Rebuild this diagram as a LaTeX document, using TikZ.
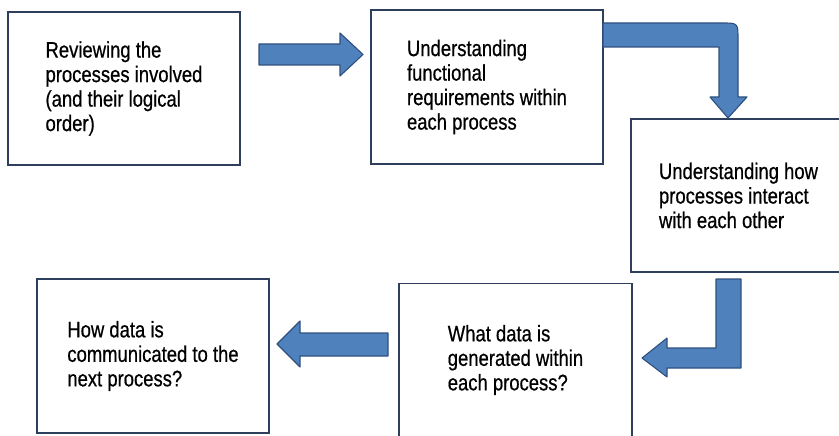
\documentclass[tikz,border=0pt]{standalone}
\usepackage{fontspec}
\setmainfont{Liberation Sans}[FakeStretch=0.82, FakeBold=0.6]
\usepackage{xcolor}
\usepackage{tikz}

\definecolor{boxline}{HTML}{2E3F5E}
\definecolor{arrowfill}{HTML}{4F81BD}
\definecolor{arrowline}{HTML}{2F4F7F}

\begin{document}
\begin{tikzpicture}[x=1pt, y=-1pt, procbox/.style={draw=boxline, line width=1.4pt, fill=white, inner sep=0pt, align=left, font=\fontsize{22.5}{24.5}\selectfont}, blockarrow/.style={fill=arrowfill, draw=arrowline, line width=1.1pt, line join=round}]
  \useasboundingbox (0,0) rectangle (839,436);
  \node[procbox, minimum width=232pt, minimum height=153pt](review) at (124,88.5) {Reviewing the\\processes involved\\(and their logical\\order)};
  \node[procbox, minimum width=232pt, minimum height=154pt](funcreq) at (487,87) {Understanding\\functional\\requirements within\\each process};
  \node[procbox, minimum width=215pt, minimum height=153pt](interact) at (738.5,195.5) {Understanding how\\processes interact\\with each other};
  \node[procbox, minimum width=233pt, minimum height=153pt](whatdata) at (515.5,360) {What data is\\generated within\\each process?};
  \node[procbox, minimum width=232pt, minimum height=154pt](howdata) at (153,356) {How data is\\communicated to the\\next process?};
  % arrows between the steps
  \draw[blockarrow] (259,44) -- (340,44) -- (340,33) -- (363,54.5) -- (340,76) -- (340,65) -- (259,65) -- cycle;
  \draw[blockarrow] (603,23) -- (722,23) .. controls (738,23) .. (738,39) -- (738,97) -- (747,97) -- (728,118) -- (710,97) -- (719,97) -- (719,47) -- (603,47) -- cycle;
  \draw[blockarrow] (716,279) -- (741,279) -- (741,368) -- (667,368) -- (667,377) -- (642,358) -- (667,338) -- (667,348) -- (716,348) -- cycle;
  \draw[blockarrow] (388,333) -- (300,333) -- (300,321) -- (277,344) -- (300,367) -- (300,356) -- (388,356) -- cycle;
\end{tikzpicture}
\end{document}
